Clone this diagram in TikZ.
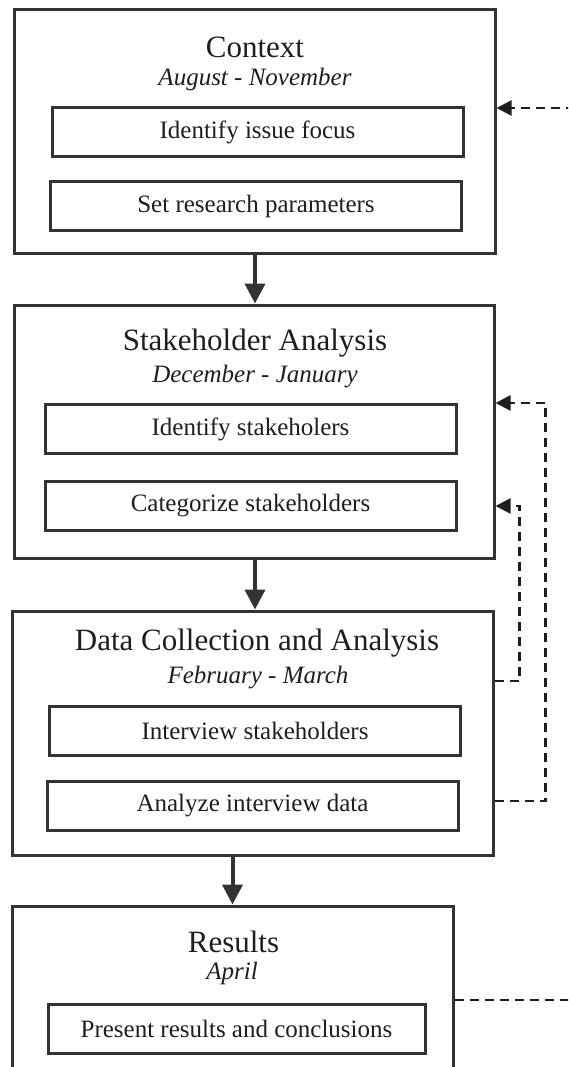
\documentclass[tikz,border=0pt]{standalone}
\usepackage{fontspec}
\setmainfont{Liberation Serif}
\usetikzlibrary{arrows.meta}

\definecolor{ink}{HTML}{333333}
\definecolor{textink}{HTML}{1E1E1E}

\tikzset{
	phase/.style = {draw = ink, line width = 3pt, inner sep = 0pt},
	task/.style = {draw = ink, line width = 3pt, minimum width = 411pt, minimum height = 49pt, inner sep = 0pt, text = textink, font = \fontsize{25}{30}\selectfont},
	title/.style = {text = textink, font = \fontsize{31}{36}\selectfont},
	dates/.style = {text = textink, font = \fontsize{25}{30}\selectfont\itshape},
	flow/.style = {draw = ink, line width = 4pt, -{Triangle[length=20pt, width=20pt]}},
	feedback/.style = {draw = textink, line width = 2.5pt, dash pattern = on 9pt off 6pt, -{Triangle[length=15pt, width=15pt]}}
}

\begin{document}
\begin{tikzpicture}[x = 1pt, y = -1pt]
	\useasboundingbox (0,0) rectangle (568,1067);
	\clip (0,0) rectangle (568,1067);

	% phases
	\node[phase, minimum width = 481pt, minimum height = 243pt] (context) at (254.5,131.5) {};
	\node[phase, minimum width = 480pt, minimum height = 253pt] (stake) at (254,431.5) {};
	\node[phase, minimum width = 481pt, minimum height = 244pt] (data) at (252.5,733) {};
	\node[phase, minimum width = 441pt, minimum height = 174pt] (results) at (232.5,993) {};

	\node[title] (contexttitle) at (255,47) {Context};
	\node[dates] (contextdate) at (255,79) {August - November};
	\node[task] (c1) at (257.5,132.5) {Identify issue focus};
	\node[task] (c2) at (256,206.5) {Set research parameters};

	\node[title] (staketitle) at (255,343) {Stakeholder Analysis};
	\node[dates] (stakedate) at (255,377) {December - January};
	\node[task] (s1) at (250.5,429) {Identify stakeholers};
	\node[task] (s2) at (250.5,506) {Categorize stakeholders};

	\node[title] (datatitle) at (257,643) {Data Collection and Analysis};
	\node[dates] (datadate) at (258,678) {February - March};
	\node[task] (d1) at (255,730.5) {Interview stakeholders};
	\node[task] (d2) at (252.5,805.5) {Analyze interview data};

	\node[title] (resultstitle) at (233.5,942) {Results};
	\node[dates] (resultsdate) at (232,973) {April};
	\node[task, minimum width = 377pt] (r1) at (236.5,1028.5) {Present results and conclusions};

	% main flow
	\draw[flow] (contexttitle.center |- context.south) -- (contexttitle.center |- stake.north);
	\draw[flow] (contexttitle.center |- stake.south) -- (contexttitle.center |- data.north);
	\draw[flow] (results.north |- data.south) -- (results.north);

	% feedback loops
	\coordinate (rightin) at (575,108);
	\coordinate (rightout) at (575,1000);
	\draw[feedback] (rightin) -- (context.east |- rightin);
	\draw[feedback] (data.east |- 0,681) -- ++(25,0) |- (stake.east |- s2);
	\draw[feedback] (data.east |- 0,801) -- ++(51,0) |- (stake.east |- s1.north);
	\draw[feedback, -] (results.east |- rightout) -- (rightout);
\end{tikzpicture}
\end{document}
